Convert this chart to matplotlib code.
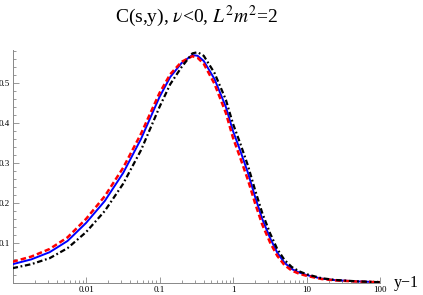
import numpy as np
import matplotlib
matplotlib.use('Agg')
from matplotlib import pyplot as plt
from matplotlib.ticker import LogLocator, MultipleLocator, FixedLocator, FixedFormatter, NullFormatter

plt.rcParams['font.family'] = ['Liberation Serif', 'DejaVu Serif']
plt.rcParams['mathtext.fontset'] = 'stix'

# sample positions along y-1 (log axis)
x_vals = [0.001, 0.0018, 0.0032, 0.0056, 0.01, 0.018, 0.032, 0.056, 0.1, 0.14, 0.2,
          0.28, 0.33, 0.4, 0.56, 0.8, 1.0, 1.26, 1.6, 2.0, 2.5, 3.2, 4.0, 5.0, 6.3,
          8.0, 10.0, 16.0, 25.0, 50.0, 100.0]

# red dashed curve
c_red = [0.053, 0.066, 0.085, 0.114, 0.160, 0.217, 0.288, 0.373, 0.475, 0.522, 0.553,
         0.567, 0.563, 0.548, 0.498, 0.425, 0.363, 0.312, 0.257, 0.199, 0.146, 0.101,
         0.068, 0.045, 0.031, 0.023, 0.018, 0.010, 0.0065, 0.0035, 0.002]

# blue solid curve
c_blue = [0.047, 0.059, 0.077, 0.105, 0.150, 0.205, 0.275, 0.360, 0.465, 0.515, 0.550,
          0.570, 0.568, 0.555, 0.510, 0.440, 0.380, 0.330, 0.275, 0.215, 0.160, 0.112,
          0.076, 0.051, 0.035, 0.026, 0.020, 0.011, 0.007, 0.004, 0.002]

# black dot-dashed curve
c_black = [0.037, 0.047, 0.062, 0.087, 0.127, 0.180, 0.248, 0.332, 0.440, 0.497, 0.540,
           0.574, 0.577, 0.568, 0.525, 0.458, 0.398, 0.348, 0.293, 0.232, 0.175, 0.124,
           0.085, 0.058, 0.040, 0.029, 0.022, 0.012, 0.0075, 0.004, 0.002]

x_ticks = [0.01, 0.1, 1, 10, 100]
x_tick_labels = ['0.01', '0.1', '1', '10', '100']
y_ticks = [0.1, 0.2, 0.3, 0.4, 0.5]
y_tick_labels = ['0.1', '0.2', '0.3', '0.4', '0.5']

W, H = 423, 295
fig = plt.figure(figsize=(W / 100, H / 100), dpi=100)
ax = fig.add_axes([12.5 / W, 12 / H, (380 - 12.5) / W, (283 - 50) / H])

ax.plot(x_vals, c_blue, color='#0000ff', lw=1.4, zorder=3)
ax.plot(x_vals, c_red, color='#ff0000', lw=1.8, ls=(0, (2.2, 1.2)), zorder=4)
ax.plot(x_vals, c_black, color='black', lw=1.6, ls=(0, (2.5, 1.2, 0.8, 1.2)), zorder=5)

ax.set_xscale('log')
ax.set_xlim(0.001, 100)
ax.set_ylim(0, 0.5825)

for side in ['top', 'right']:
    ax.spines[side].set_visible(False)
for side in ['left', 'bottom']:
    ax.spines[side].set_color('#888888')
    ax.spines[side].set_linewidth(0.7)

ax.xaxis.set_major_locator(FixedLocator(x_ticks))
ax.xaxis.set_major_formatter(FixedFormatter(x_tick_labels))
ax.xaxis.set_minor_locator(LogLocator(base=10, subs=np.arange(2, 10)))
ax.xaxis.set_minor_formatter(NullFormatter())
ax.yaxis.set_major_locator(FixedLocator(y_ticks))
ax.yaxis.set_major_formatter(FixedFormatter(y_tick_labels))
ax.yaxis.set_minor_locator(MultipleLocator(0.02))

ax.tick_params(which='both', direction='in', color='#888888', width=0.6, labelsize=6.5, pad=2)
ax.tick_params(which='major', length=4)
ax.tick_params(which='minor', length=2)

fig.text((12.5 + 380) / 2 / W, 1 - 22 / H, r'C(s,y), $\nu$<0, $L^2m^2$=2',
         ha='center', va='baseline', fontsize=14)
ax.annotate('y\u22121', xy=(1, 0), xycoords='axes fraction', xytext=(10, 0),
            textcoords='offset points', ha='left', va='center', fontsize=11.5,
            annotation_clip=False)

fig.savefig('out.png', dpi=100)
